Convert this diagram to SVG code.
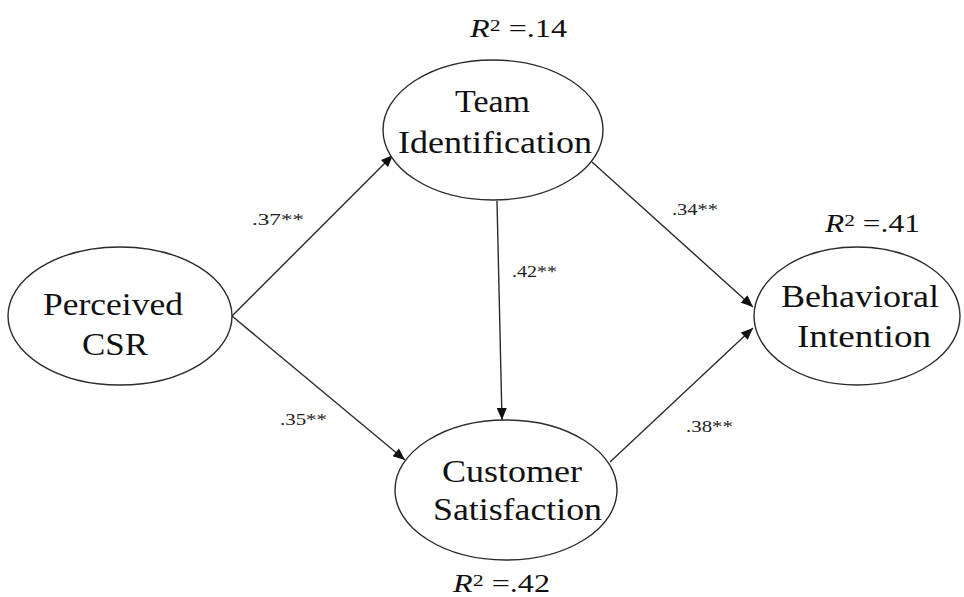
<svg xmlns="http://www.w3.org/2000/svg" width="964" height="597" viewBox="0 0 964 597">
  <defs>
    <marker id="arrow" markerUnits="userSpaceOnUse" viewBox="0 0 12 10" refX="12" refY="5" markerWidth="13" markerHeight="10" orient="auto">
      <path d="M0,0 L12,5 L0,10 Z" fill="#111111"/>
    </marker>
  </defs>
  <rect width="964" height="597" fill="#ffffff"/>

  <!-- paths between constructs -->
  <g id="connectors" stroke="#2b2b2b" stroke-width="1.4" fill="none" marker-end="url(#arrow)">
    <line x1="232" y1="316" x2="393" y2="155"/>
    <line x1="232" y1="316" x2="405" y2="460"/>
    <line x1="592" y1="162" x2="753" y2="307"/>
    <line x1="610" y1="462" x2="753" y2="328"/>
    <line x1="497" y1="201" x2="502" y2="420"/>
  </g>

  <!-- path coefficients -->
  <g id="coefficients">
    <text x="252" y="225" font-family="Times New Roman" font-size="17" fill="#222222" textLength="52" lengthAdjust="spacingAndGlyphs">.37**</text>
    <text x="672" y="215" font-family="Times New Roman" font-size="17" fill="#222222" textLength="46" lengthAdjust="spacingAndGlyphs">.34**</text>
    <text x="512" y="277" font-family="Times New Roman" font-size="17" fill="#222222" textLength="45" lengthAdjust="spacingAndGlyphs">.42**</text>
    <text x="280" y="425" font-family="Times New Roman" font-size="17" fill="#222222" textLength="47" lengthAdjust="spacingAndGlyphs">.35**</text>
    <text x="686" y="432" font-family="Times New Roman" font-size="17" fill="#222222" textLength="47" lengthAdjust="spacingAndGlyphs">.38**</text>
  </g>

  <g id="perceived-csr">
    <ellipse cx="120" cy="316" rx="112" ry="69" fill="#ffffff" stroke="#2b2b2b" stroke-width="1.4"/>
    <text x="43" y="315" font-family="Times New Roman" font-size="32" fill="#111111" textLength="140" lengthAdjust="spacingAndGlyphs">Perceived</text>
    <text x="82" y="355" font-family="Times New Roman" font-size="32" fill="#111111" textLength="66" lengthAdjust="spacingAndGlyphs">CSR</text>
  </g>

  <g id="team-identification">
    <ellipse cx="493" cy="130" rx="110" ry="70" fill="#ffffff" stroke="#2b2b2b" stroke-width="1.4"/>
    <text x="455" y="112" font-family="Times New Roman" font-size="32" fill="#111111" textLength="75" lengthAdjust="spacingAndGlyphs">Team</text>
    <text x="398" y="153" font-family="Times New Roman" font-size="32" fill="#111111" textLength="194" lengthAdjust="spacingAndGlyphs">Identification</text>
    <text x="470" y="37" font-family="Times New Roman" font-size="25" fill="#111111" textLength="97" lengthAdjust="spacingAndGlyphs"><tspan font-style="italic">R</tspan><tspan font-size="17" dy="-6">2</tspan><tspan dy="6"> =.14</tspan></text>
  </g>

  <g id="customer-satisfaction">
    <ellipse cx="506" cy="490" rx="111" ry="70" fill="#ffffff" stroke="#2b2b2b" stroke-width="1.4"/>
    <text x="442" y="482" font-family="Times New Roman" font-size="32" fill="#111111" textLength="140" lengthAdjust="spacingAndGlyphs">Customer</text>
    <text x="433" y="520" font-family="Times New Roman" font-size="32" fill="#111111" textLength="169" lengthAdjust="spacingAndGlyphs">Satisfaction</text>
    <text x="453" y="592" font-family="Times New Roman" font-size="25" fill="#111111" textLength="97" lengthAdjust="spacingAndGlyphs"><tspan font-style="italic">R</tspan><tspan font-size="17" dy="-6">2</tspan><tspan dy="6"> =.42</tspan></text>
  </g>

  <g id="behavioral-intention">
    <ellipse cx="857" cy="316" rx="103" ry="69" fill="#ffffff" stroke="#2b2b2b" stroke-width="1.4"/>
    <text x="781" y="307" font-family="Times New Roman" font-size="32" fill="#111111" textLength="158" lengthAdjust="spacingAndGlyphs">Behavioral</text>
    <text x="797" y="347" font-family="Times New Roman" font-size="32" fill="#111111" textLength="134" lengthAdjust="spacingAndGlyphs">Intention</text>
    <text x="825" y="232" font-family="Times New Roman" font-size="25" fill="#111111" textLength="95" lengthAdjust="spacingAndGlyphs"><tspan font-style="italic">R</tspan><tspan font-size="17" dy="-6">2</tspan><tspan dy="6"> =.41</tspan></text>
  </g>
</svg>
